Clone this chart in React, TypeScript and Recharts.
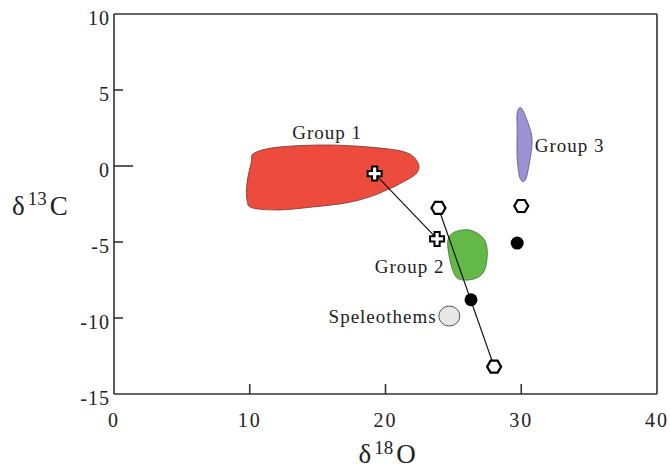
import React from 'react';
import {
  ReferenceLine,
  Scatter,
  ScatterChart,
  XAxis,
  YAxis,
} from 'recharts';

type Pt = { x: number; y: number };

// outlines of the shaded fields (δ18O, δ13C)
const group1Outline: Pt[] = [
  { x: 10.35, y: 0.86 },
  { x: 12.2, y: 1.25 },
  { x: 15.9, y: 1.38 },
  { x: 19.6, y: 1.18 },
  { x: 21.6, y: 0.86 },
  { x: 22.4, y: 0.2 },
  { x: 22.3, y: -0.46 },
  { x: 21.3, y: -1.05 },
  { x: 20.1, y: -1.58 },
  { x: 18.8, y: -2.04 },
  { x: 17.1, y: -2.43 },
  { x: 14.6, y: -2.7 },
  { x: 12.2, y: -2.89 },
  { x: 10.2, y: -2.76 },
  { x: 9.8, y: -2.24 },
  { x: 9.8, y: -1.12 },
  { x: 10.1, y: 0.2 },
];

const group2Outline: Pt[] = [
  { x: 25.1, y: -4.34 },
  { x: 26.2, y: -4.21 },
  { x: 27.2, y: -4.74 },
  { x: 27.5, y: -5.66 },
  { x: 27.3, y: -6.84 },
  { x: 26.7, y: -7.37 },
  { x: 25.7, y: -7.5 },
  { x: 25.1, y: -7.17 },
  { x: 24.7, y: -5.99 },
  { x: 24.6, y: -4.87 },
];

const group3Outline: Pt[] = [
  { x: 30.0, y: 3.82 },
  { x: 30.5, y: 2.83 },
  { x: 30.8, y: 1.71 },
  { x: 30.6, y: 0.2 },
  { x: 30.3, y: -0.92 },
  { x: 29.9, y: -0.79 },
  { x: 29.7, y: 0.59 },
  { x: 29.7, y: 2.37 },
  { x: 29.7, y: 3.49 },
];

const speleothems: Pt[] = [{ x: 24.7, y: -9.87 }];

const crossPoints: Pt[] = [
  { x: 19.2, y: -0.5 },
  { x: 23.8, y: -4.8 },
];

const hexPoints: Pt[] = [
  { x: 23.9, y: -2.76 },
  { x: 30.0, y: -2.63 },
  { x: 28.0, y: -13.2 },
];

const dotPoints: Pt[] = [
  { x: 29.7, y: -5.07 },
  { x: 26.3, y: -8.8 },
];

const trend1: Pt[] = [crossPoints[0], crossPoints[1]];
const trend2: Pt[] = [hexPoints[0], hexPoints[2]];

const labels = [
  { x: 15.7, y: 1.78, text: 'Group 1' },
  { x: 31.0, y: 0.92, text: 'Group 3' },
  { x: 24.35, y: -7.04, text: 'Group 2' },
  { x: 23.77, y: -10.33, text: 'Speleothems' },
];

const xTicks = [0, 10, 20, 30, 40];
const yTicks = [-15, -10, -5, 0, 5, 10];

const labelAnchor: Record<string, 'start' | 'middle' | 'end'> = {
  'Group 1': 'middle',
  'Group 3': 'start',
  'Group 2': 'end',
  Speleothems: 'end',
};

const FONT = "'Liberation Serif', 'DejaVu Serif', serif";
const AXIS = '#333';
const serif = { fontFamily: FONT };

function smoothClosed(pts: { x: number; y: number }[]) {
  const n = pts.length;
  let d = `M${pts[0].x},${pts[0].y}`;
  for (let i = 0; i < n; i++) {
    const p0 = pts[(i - 1 + n) % n];
    const p1 = pts[i];
    const p2 = pts[(i + 1) % n];
    const p3 = pts[(i + 2) % n];
    const c1x = p1.x + (p2.x - p0.x) / 6;
    const c1y = p1.y + (p2.y - p0.y) / 6;
    const c2x = p2.x - (p3.x - p1.x) / 6;
    const c2y = p2.y - (p3.y - p1.y) / 6;
    d += ` C${c1x},${c1y} ${c2x},${c2y} ${p2.x},${p2.y}`;
  }
  return d + 'Z';
}

const blob = (fill: string, stroke: string) => (props: any) => (
  <path d={smoothClosed(props.points)} fill={fill} stroke={stroke} strokeWidth={0.8} />
);

const noMark = () => <g />;

const Cross = ({ cx, cy }: any) => {
  const a = 2.6;
  const b = 7;
  const d = `M${cx - a},${cy - b} H${cx + a} V${cy - a} H${cx + b} V${cy + a} H${cx + a} V${cy + b} H${cx - a} V${cy + a} H${cx - b} V${cy - a} H${cx - a} Z`;
  return <path d={d} fill="#fff" stroke="#000" strokeWidth={2} strokeLinejoin="miter" />;
};

const Hexagon = ({ cx, cy }: any) => {
  const w = 7;
  const h = 6;
  const d = `M${cx - w},${cy} L${cx - w / 2},${cy - h} L${cx + w / 2},${cy - h} L${cx + w},${cy} L${cx + w / 2},${cy + h} L${cx - w / 2},${cy + h} Z`;
  return <path d={d} fill="#fff" stroke="#000" strokeWidth={2.2} />;
};

const Dot = ({ cx, cy }: any) => <circle cx={cx} cy={cy} r={6.5} fill="#000" />;

const Speleo = ({ cx, cy }: any) => (
  <ellipse cx={cx} cy={cy} rx={10.5} ry={10} fill="#e6e7e6" stroke="#555" strokeWidth={1} />
);

const TextMark = ({ cx, cy, payload }: any) => (
  <text
    x={cx}
    y={cy}
    textAnchor={labelAnchor[payload.text]}
    style={serif}
    fontSize={19}
    letterSpacing={1}
    fill="#222"
  >
    {payload.text}
  </text>
);

const XTick = ({ x, y, payload }: any) => {
  const v = payload.value;
  return (
    <g>
      {v !== 0 && v !== 40 && (
        <line x1={x} x2={x} y1={y} y2={y - 10} stroke={AXIS} strokeWidth={1.6} />
      )}
      <text x={x} y={y + 33} textAnchor="middle" style={serif} fontSize={20} letterSpacing={2} fill="#222">
        {v}
      </text>
    </g>
  );
};

const YTick = ({ x, y, payload }: any) => {
  const v = payload.value;
  return (
    <g>
      {v !== 10 && v !== -15 && (
        <line x1={x} x2={x + (v === 0 ? 19 : 9)} y1={y} y2={y} stroke={AXIS} strokeWidth={1.6} />
      )}
      <text x={x - 4} y={y + 11} textAnchor="end" style={serif} fontSize={20} letterSpacing={1} fill="#222">
        {v}
      </text>
    </g>
  );
};

// δ with a superscript isotope mass and an element letter
const IsoTitle = ({ x, y, mass, el, rise }: any) => (
  <text x={x} y={y} style={serif} fontSize={27} fill="#222">
    <tspan>δ</tspan>
    <tspan dx={3} dy={-rise} fontSize={19}>{mass}</tspan>
    <tspan dx={3} dy={rise}>{el}</tspan>
  </text>
);

const XTitle = ({ viewBox }: any) => (
  <IsoTitle x={viewBox.x + viewBox.width / 2 - 27} y={viewBox.y + 69} mass="18" el="O" rise={9} />
);

const YTitle = ({ viewBox }: any) => (
  <IsoTitle x={viewBox.x + 12} y={viewBox.y + viewBox.height * 0.528} mass="13" el="C" rise={10} />
);

export default function App() {
  return (
    <div style={{ position: 'absolute', left: 0, top: 0, background: '#fff' }}>
      <ScatterChart width={670} height={471} margin={{ top: 14, right: 13, bottom: 0, left: 0 }}>
        <XAxis
          type="number"
          dataKey="x"
          domain={[0, 40]}
          ticks={xTicks}
          height={77}
          tickSize={0}
          tickMargin={0}
          tickLine={false}
          tick={(p: any) => <XTick {...p} />}
          axisLine={{ stroke: AXIS, strokeWidth: 1.6 }}
          allowDataOverflow
          label={{ content: (p: any) => <XTitle {...p} /> }}
        />
        <YAxis
          type="number"
          dataKey="y"
          domain={[-15, 10]}
          ticks={yTicks}
          width={114}
          tickSize={0}
          tickMargin={0}
          tickLine={false}
          tick={(p: any) => <YTick {...p} />}
          axisLine={{ stroke: AXIS, strokeWidth: 1.6 }}
          allowDataOverflow
          label={{ content: (p: any) => <YTitle {...p} /> }}
        />
        <ReferenceLine x={40} stroke={AXIS} strokeWidth={1.6} />
        <ReferenceLine y={10} stroke={AXIS} strokeWidth={1.6} />

        <Scatter data={group1Outline} line={blob('#ec4b3e', '#6a3a30')} lineType="joint" shape={noMark} isAnimationActive={false} />
        <Scatter data={group2Outline} line={blob('#63b947', '#3f6e35')} lineType="joint" shape={noMark} isAnimationActive={false} />
        <Scatter data={group3Outline} line={blob('#9c93d3', '#5a5380')} lineType="joint" shape={noMark} isAnimationActive={false} />

        <Scatter data={trend1} line={{ stroke: '#111', strokeWidth: 1.2 }} lineType="joint" shape={noMark} isAnimationActive={false} />
        <Scatter data={trend2} line={{ stroke: '#111', strokeWidth: 1.2 }} lineType="joint" shape={noMark} isAnimationActive={false} />

        <Scatter data={speleothems} shape={Speleo} isAnimationActive={false} />
        <Scatter data={dotPoints} shape={Dot} isAnimationActive={false} />
        <Scatter data={hexPoints} shape={Hexagon} isAnimationActive={false} />
        <Scatter data={crossPoints} shape={Cross} isAnimationActive={false} />
        <Scatter data={labels} shape={TextMark} isAnimationActive={false} />
      </ScatterChart>
    </div>
  );
}
